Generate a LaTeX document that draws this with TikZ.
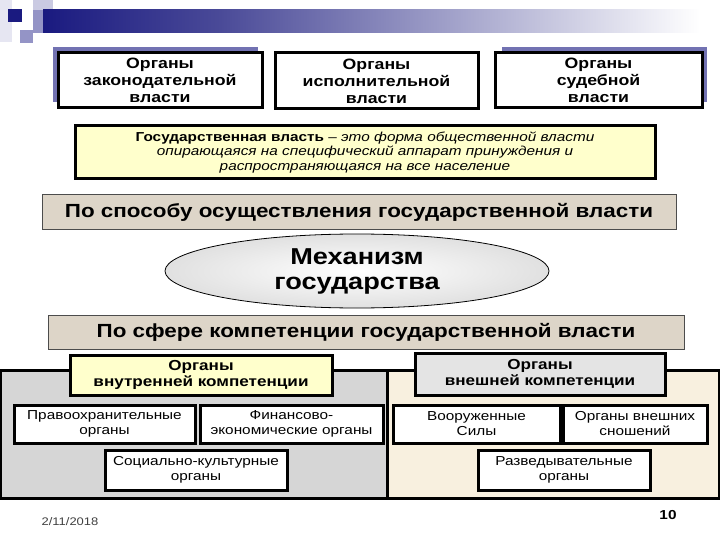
\documentclass[tikz,border=0pt]{standalone}
\usepackage{fontspec}
\setmainfont[FakeStretch=1.18]{Liberation Sans}
\usetikzlibrary{shapes.geometric}
\definecolor{navy}{HTML}{1A1A80}
\definecolor{navymid}{HTML}{4A4A98}
\definecolor{sqlight}{HTML}{E6E6F2}
\definecolor{sqlight2}{HTML}{CACAE2}
\definecolor{sqmid}{HTML}{9494C6}
\definecolor{shadowblue}{HTML}{7272B2}
\definecolor{defyellow}{HTML}{FFFFCC}
\definecolor{bannerfill}{HTML}{DDD5C8}
\definecolor{leftpanel}{HTML}{D6D6D6}
\definecolor{rightpanel}{HTML}{F8F0DF}
\definecolor{marble}{HTML}{E4E4E4}
\definecolor{datecol}{HTML}{404040}
\tikzset{
  topbox/.style={draw=black, line width=3pt, fill=white, inner sep=0pt, align=center,
    font=\fontsize{15}{17}\selectfont\bfseries},
  rowbox/.style={draw=black, line width=3pt, fill=white, inner sep=0pt, align=center,
    font=\fontsize{13}{15}\selectfont},
  headbox/.style={draw=black, line width=3pt, inner sep=0pt, align=center,
    font=\fontsize{14.5}{16}\selectfont\bfseries},
  banner/.style={draw=black!70, line width=1pt, fill=bannerfill, inner sep=0pt, align=center,
    font=\fontsize{19}{22}\selectfont\bfseries},
  panel/.style={draw=black, line width=3pt}
}
\begin{document}
\begin{tikzpicture}[x=1pt,y=-1pt]
\useasboundingbox (0,0) rectangle (720,540);
% header decoration
\fill[sqlight] (0,0) rectangle (12,42);
\fill[sqlight2] (33,0) rectangle (53,20);
\shade[left color=navy, right color=navymid] (43,10) rectangle (220,33);
\shade[left color=navymid, right color=white] (220,10) rectangle (700,33);
\fill[sqmid] (33,10) rectangle (43,33);
\fill[navy] (8,9) rectangle (22,22);
\fill[sqmid] (20,30) rectangle (33,43);
% top boxes
\fill[shadowblue] (53,47) rectangle (258,102);
\node[topbox, minimum width=204, minimum height=55] (leg) at (160,80.5)
  {Органы\\законодательной\\власти};
\node[topbox, minimum width=203, minimum height=56] (exe) at (376.5,81)
  {Органы\\исполнительной\\власти};
\fill[shadowblue] (502,47) rectangle (707,102);
\node[topbox, minimum width=207, minimum height=55] (jud) at (598.5,80.5)
  {Органы\\судебной\\власти};
% definition
\node[draw=black, line width=3pt, fill=defyellow, inner sep=0pt, align=center,
  minimum width=580, minimum height=53, font=\fontsize{13}{14.5}\selectfont] (def) at (365,152.5)
  {\textbf{Государственная власть} -- \textit{это форма общественной власти}\\
   \textit{опирающаяся на специфический аппарат принуждения и}\\
   \textit{распространяющаяся на все население}};
% banner 1
\node[banner, minimum width=634, minimum height=35] (ban1) at (359,212.5)
  {По способу осуществления государственной власти};
% ellipse
\node[ellipse, draw=black, line width=0.8pt, inner color=white, outer color=black!12,
  minimum width=384, minimum height=74, inner sep=0pt, align=center,
  font=\fontsize{23}{25}\selectfont\bfseries] (mech) at (357,271)
  {Механизм\\государства};
% banner 2
\node[banner, minimum width=636, minimum height=34] (ban2) at (366,332)
  {По сфере компетенции государственной власти};
% panels
\draw[panel, fill=leftpanel] (0,370) rectangle (387,498);
\draw[panel, fill=rightpanel] (387,370) rectangle (719,498);
% heads
\node[headbox, fill=defyellow, minimum width=262, minimum height=40] (inner) at (201,375)
  {Органы\\внутренней компетенции};
\node[headbox, fill=marble, minimum width=250, minimum height=42] (outer) at (540,374)
  {Органы\\внешней компетенции};
% rows
\node[rowbox, minimum width=181, minimum height=38] (pravo) at (104.5,424)
  {Правоохранительные\\органы};
\node[rowbox, minimum width=183, minimum height=38] (fin) at (291.5,424)
  {Финансово-\\экономические органы};
\node[rowbox, minimum width=167, minimum height=38] (voor) at (476.5,424)
  {Вооруженные\\Силы};
\node[rowbox, minimum width=144, minimum height=38] (snosh) at (635,424)
  {Органы внешних\\сношений};
\node[rowbox, minimum width=182, minimum height=40] (soc) at (196,470)
  {Социально-культурные\\органы};
\node[rowbox, minimum width=172, minimum height=40] (razv) at (564,470)
  {Разведывательные\\органы};
% footer
\node[font=\fontsize{11}{13}\selectfont, text=datecol] (date) at (70,522) {2/11/2018};
\node[font=\fontsize{13}{15}\selectfont\bfseries] (num) at (668,515) {10};
\end{tikzpicture}
\end{document}
